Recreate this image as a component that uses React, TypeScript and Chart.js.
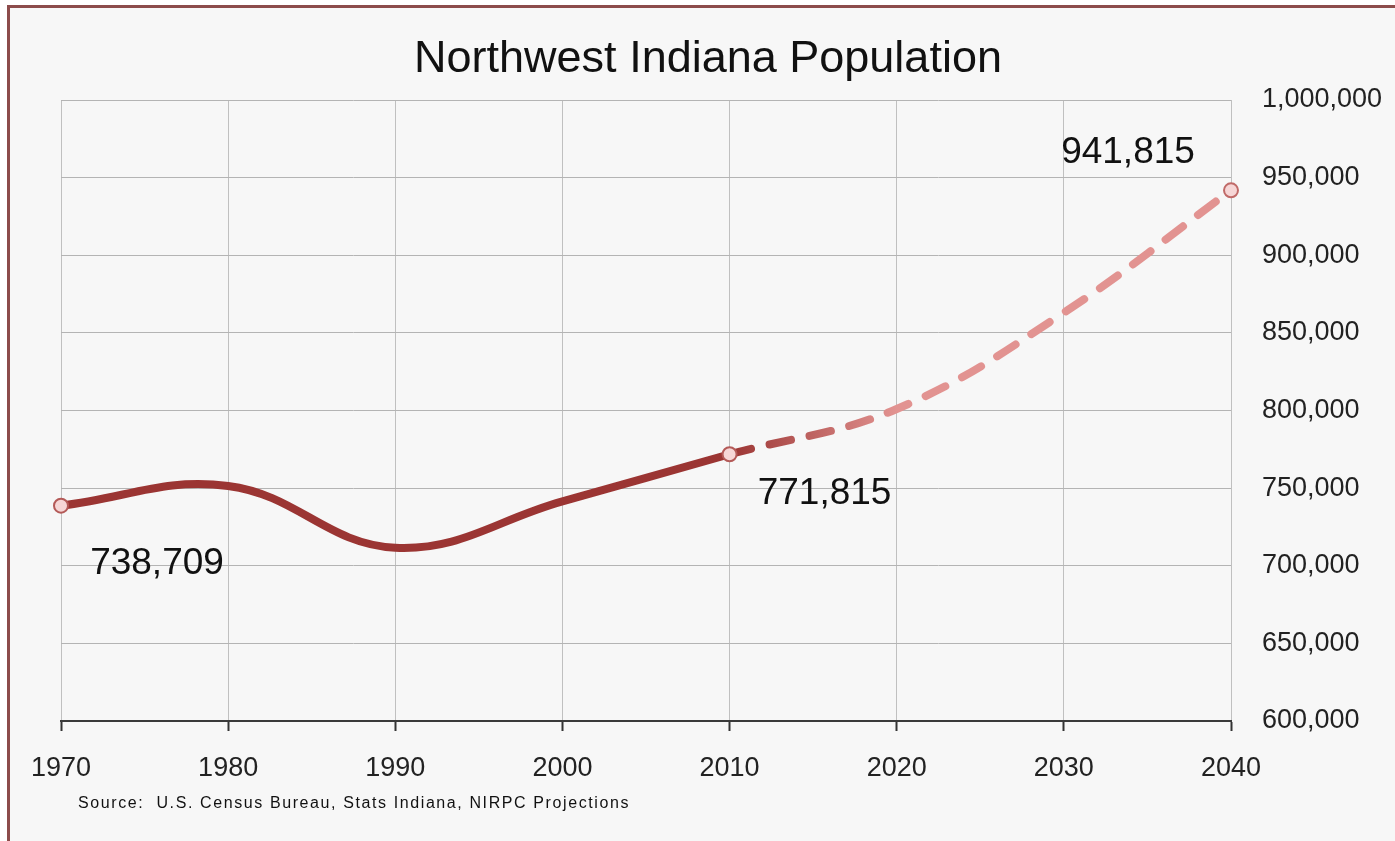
import React, { useEffect, useRef } from "react";
import { Chart, registerables } from "chart.js";

Chart.register(...registerables);

const TITLE = "Northwest Indiana Population";
const SOURCE = "Source:  U.S. Census Bureau, Stats Indiana, NIRPC Projections";

const censusYears = [1970, 1980, 1990, 2000, 2010];
const censusValues = [738709, 751413, 711592, 741468, 771815];

const projectionYears = [2010, 2020, 2030, 2040];
const projectionValues = [771815, 801000, 863000, 941815];

const yTickMin = 600000;
const yTickMax = 1000000;
const yTickStep = 50000;
const xTickMin = 1970;
const xTickMax = 2040;
const xTickStep = 10;

const FONT = '"Liberation Sans", Arial, sans-serif';
const DARK = "#9b3533";
const PINK = "#e29391";

const fmt = (v: number) => v.toLocaleString("en-US");

export default function App() {
  const ref = useRef<HTMLCanvasElement | null>(null);

  useEffect(() => {
    const canvas = ref.current;
    if (!canvas) return;

    const textPlugin = {
      id: "texts",
      afterDraw(chart: any) {
        const ctx = chart.ctx;
        ctx.save();
        ctx.fillStyle = "#111";
        ctx.textBaseline = "alphabetic";
        ctx.textAlign = "center";
        ctx.font = `45px ${FONT}`;
        ctx.fillText(TITLE, 708, 72);

        ctx.textAlign = "left";
        ctx.font = `16px ${FONT}`;
        (ctx as any).letterSpacing = "1.6px";
        ctx.fillText(SOURCE, 78, 808);
        (ctx as any).letterSpacing = "0px";

        // data labels
        const xs = chart.scales.x;
        const ys = chart.scales.y;
        ctx.font = `37px ${FONT}`;
        ctx.textAlign = "center";
        const items = [
          { x: censusYears[0], y: censusValues[0], dx: 96, dy: 68 },
          { x: censusYears[censusYears.length - 1], y: censusValues[censusValues.length - 1], dx: 95, dy: 50 },
          { x: projectionYears[projectionYears.length - 1], y: projectionValues[projectionValues.length - 1], dx: -103, dy: -27 },
        ];
        for (const it of items) {
          const px = xs.getPixelForValue(it.x);
          const py = ys.getPixelForValue(it.y);
          ctx.fillText(fmt(it.y), px + it.dx, py + it.dy);
        }
        ctx.restore();
      },
    };

    const projColor = (c: any) => {
      const chart = c.chart;
      const area = chart.chartArea;
      if (!area || !chart.scales.x) return PINK;
      const xs = chart.scales.x;
      const x0 = xs.getPixelForValue(projectionYears[0]);
      const x1 = xs.getPixelForValue(projectionYears[1]);
      const g = chart.ctx.createLinearGradient(x0, 0, x1, 0);
      g.addColorStop(0, DARK);
      g.addColorStop(1, PINK);
      return g;
    };

    const chart = new Chart(canvas, {
      type: "line",
      data: {
        datasets: [
          {
            label: "Census",
            data: censusYears.map((x, i) => ({ x, y: censusValues[i] })),
            borderColor: DARK,
            borderWidth: 8,
            tension: 0.4,
            borderCapStyle: "round",
            clip: false,
            pointRadius: (c: any) => (c.dataIndex === 0 || c.dataIndex === censusYears.length - 1 ? 7 : 0),
            pointBackgroundColor: "#f6d6d6",
            pointBorderColor: "#b45a58",
            pointBorderWidth: 2,
            order: 1,
          },
          {
            label: "Projection",
            data: projectionYears.map((x, i) => ({ x, y: projectionValues[i] })),
            borderColor: projColor,
            borderWidth: 8,
            borderDash: [22, 19],
            borderCapStyle: "round",
            tension: 0.4,
            clip: false,
            pointRadius: (c: any) => (c.dataIndex === projectionYears.length - 1 ? 7 : 0),
            pointBackgroundColor: "#f6d6d6",
            pointBorderColor: "#c06a68",
            pointBorderWidth: 2,
            order: 2,
          },
        ],
      },
      options: {
        responsive: false,
        animation: false,
        events: [],
        layout: { padding: { left: 61, top: 100, right: 0, bottom: 0 } },
        plugins: {
          legend: { display: false },
          title: { display: false },
          tooltip: { enabled: false },
        },
        scales: {
          x: {
            type: "linear",
            min: xTickMin,
            max: xTickMax,
            afterFit: (s: any) => {
              s.height = 120;
            },
            ticks: {
              stepSize: xTickStep,
              callback: (v: any) => String(v),
              color: "#222",
              font: { family: FONT, size: 27 },
              padding: 21,
              maxRotation: 0,
            },
            grid: {
              color: "#c0c0c0",
              lineWidth: 1,
              tickColor: "#333",
              tickLength: 10,
              tickWidth: 2,
            },
            border: { color: "#3a3a3a", width: 2 },
          },
          y: {
            position: "right",
            min: yTickMin,
            max: yTickMax,
            afterFit: (s: any) => {
              s.width = 164;
            },
            ticks: {
              stepSize: yTickStep,
              callback: (v: any) => fmt(Number(v)),
              color: "#222",
              font: { family: FONT, size: 27 },
              padding: 31,
            },
            grid: {
              color: "#b4b4b4",
              lineWidth: 1,
              drawTicks: false,
            },
            border: { display: false },
          },
        },
      },
      plugins: [textPlugin],
    } as any);

    return () => chart.destroy();
  }, []);

  return (
    <div style={{ position: "fixed", left: 0, top: 0, width: 1395, height: 841, overflow: "hidden", background: "#ffffff" }}>
      <div
        style={{
          position: "absolute",
          left: 7,
          top: 5,
          width: 1420,
          height: 860,
          boxSizing: "border-box",
          border: "3px solid #8c4c4b",
          background: "#f7f7f7",
        }}
      />
      <canvas ref={ref} width={1395} height={841} style={{ position: "absolute", left: 0, top: 0, width: 1395, height: 841 }} />
    </div>
  );
}
